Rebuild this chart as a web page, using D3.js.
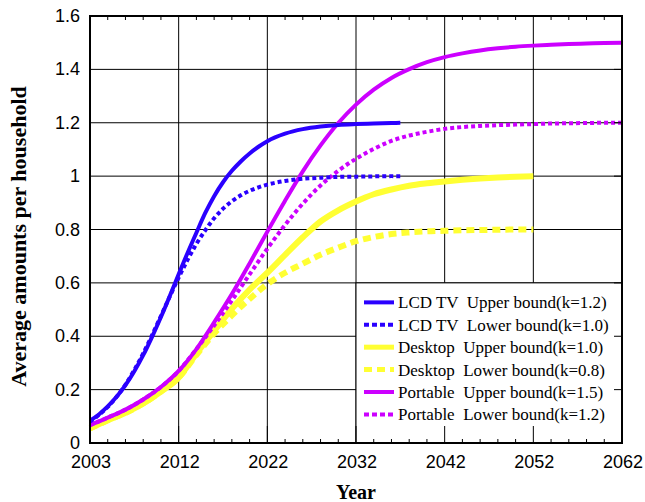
<!DOCTYPE html>
<html>
<head>
<meta charset="utf-8">
<script src="https://cdn.jsdelivr.net/npm/d3@7"></script>
<style>
  body { margin: 0; background: #fff; }
  svg { display: block; }
  text { white-space: pre; }
</style>
</head>
<body>
<svg id="chart" width="645" height="502"></svg>
<script>
// ---------------- data ----------------
const xTickValues = [2002, 2012, 2022, 2032, 2042, 2052, 2062];
const xTickLabels = ["2003", "2012", "2022", "2032", "2042", "2052", "2062"];
const yTickValues = [0, 0.2, 0.4, 0.6, 0.8, 1.0, 1.2, 1.4, 1.6];
const yTickLabels = ["0", "0.2", "0.4", "0.6", "0.8", "1", "1.2", "1.4", "1.6"];

const lcdYears = [2002,2003,2004,2005,2006,2007,2008,2009,2010,2011,2012,2013,2014,2015,2016,2017,2018,2019,2020,2021,2022,
                  2024,2026,2028,2030,2032,2034,2036,2037];
const lcdUpper = [0.084,0.107,0.137,0.173,0.217,0.269,0.329,0.398,0.472,0.551,0.632,0.712,0.788,0.862,0.925,0.977,1.02,1.055,1.085,1.11,1.131,
                  1.159,1.176,1.186,1.192,1.195,1.197,1.199,1.2];
const lcdLower = [0.080,0.105,0.135,0.173,0.219,0.274,0.336,0.404,0.476,0.549,0.620,0.686,0.746,0.797,0.842,0.878,0.906,0.928,0.945,0.958,0.968,
                  0.982,0.990,0.994,0.997,0.998,0.999,1.0,1.0];

const deskYears = [2002,2004,2006,2008,2010,2012,2014,2016,2018,2020,2022,2024,2026,2028,2030,2032,2034,2036,2038,2040,2042,2044,2046,2048,2050,2052];
const deskUpper = [0.055,0.085,0.113,0.148,0.193,0.245,0.335,0.42,0.503,0.575,0.638,0.705,0.771,0.83,0.872,0.905,0.932,0.95,0.964,0.973,0.98,0.986,0.991,0.995,0.998,1.0];
const deskLower = [0.055,0.085,0.113,0.148,0.193,0.245,0.33,0.41,0.478,0.54,0.595,0.638,0.672,0.705,0.732,0.756,0.772,0.783,0.789,0.793,0.795,0.797,0.798,0.799,0.8,0.8];

const portYears = [2002,2004,2006,2008,2010,2012,2014,2016,2018,2020,2022,2024,2026,2028,2030,2032,2034,2036,2038,2040,2042,2044,2046,2048,2050,2052,2054,2056,2058,2060,2062];
const portUpper = [0.067,0.095,0.125,0.163,0.21,0.27,0.352,0.452,0.558,0.673,0.792,0.908,1.018,1.115,1.199,1.268,1.324,1.368,1.401,1.427,1.446,1.46,1.471,1.479,1.485,1.489,1.492,1.495,1.497,1.499,1.5];
const portLower = [0.067,0.095,0.125,0.163,0.21,0.27,0.352,0.44,0.534,0.632,0.728,0.817,0.897,0.965,1.02,1.065,1.102,1.132,1.152,1.166,1.177,1.184,1.188,1.191,1.193,1.195,1.197,1.198,1.199,1.2,1.2];

const seriesNames = [
  "LCD TV  Upper bound(k=1.2)",
  "LCD TV  Lower bound(k=1.0)",
  "Desktop  Upper bound(k=1.0)",
  "Desktop  Lower bound(k=0.8)",
  "Portable  Upper bound(k=1.5)",
  "Portable  Lower bound(k=1.2)"
];

// ---------------- styles ----------------
const BLUE = "#2a00ff", YELLOW = "#ffff33", MAGENTA = "#cc00ff";
const series = [
  { name: seriesNames[0], years: lcdYears,  vals: lcdUpper,  color: BLUE,    width: 4, dash: null,  legDash: null },
  { name: seriesNames[1], years: lcdYears,  vals: lcdLower,  color: BLUE,    width: 4, dash: "4,3", legDash: "5,3" },
  { name: seriesNames[2], years: deskYears, vals: deskUpper, color: YELLOW,  width: 6, dash: null,  legDash: null },
  { name: seriesNames[3], years: deskYears, vals: deskLower, color: YELLOW,  width: 6, dash: "8,5", legDash: "8,5" },
  { name: seriesNames[4], years: portYears, vals: portUpper, color: MAGENTA, width: 4, dash: null,  legDash: null },
  { name: seriesNames[5], years: portYears, vals: portLower, color: MAGENTA, width: 4, dash: "4,3", legDash: "5,3" }
];
const drawOrder = [2, 3, 4, 5, 0, 1];

// ---------------- layout ----------------
const L = 90, R = 622, T = 16, B = 443;
const svg = d3.select("#chart");
svg.append("rect").attr("width", 645).attr("height", 502).attr("fill", "#fff");

const x = d3.scaleLinear().domain([2002, 2062]).range([L, R]);
const y = d3.scaleLinear().domain([0, 1.6]).range([B, T]);

// grid
const grid = svg.append("g").attr("stroke", "#000").attr("stroke-width", 1);
xTickValues.slice(1, -1).forEach(v => {
  grid.append("line").attr("x1", x(v)).attr("x2", x(v)).attr("y1", T).attr("y2", B);
});
yTickValues.slice(1, -1).forEach(v => {
  grid.append("line").attr("x1", L).attr("x2", R).attr("y1", y(v)).attr("y2", y(v));
});

// curves
const line = d3.line().x(d => x(d[0])).y(d => y(d[1])).curve(d3.curveMonotoneX);
const curves = svg.append("g").attr("fill", "none");
drawOrder.forEach(i => {
  const s = series[i];
  const pts = s.years.map((yr, k) => [yr, s.vals[k]]);
  curves.append("path")
    .attr("d", line(pts))
    .attr("stroke", s.color)
    .attr("stroke-width", s.width)
    .attr("stroke-dasharray", s.dash)
    .attr("stroke-linecap", "butt");
});

// legend
const lx0 = x(2032), ly0 = y(0.6);
const leg = svg.append("g");
leg.append("rect").attr("x", lx0).attr("y", ly0).attr("width", R - lx0).attr("height", B - ly0)
  .attr("fill", "#fff").attr("stroke", "#000").attr("stroke-width", 1);
series.forEach((s, i) => {
  const cy = ly0 + 19.5 + i * 22.4;
  leg.append("line").attr("x1", lx0 + 8).attr("x2", lx0 + 38).attr("y1", cy).attr("y2", cy)
    .attr("stroke", s.color).attr("stroke-width", s.width === 6 ? 5 : 4)
    .attr("stroke-dasharray", s.legDash);
  leg.append("text").attr("x", lx0 + 42).attr("y", cy + 6)
    .attr("font-family", "'Liberation Serif', 'Times New Roman', serif")
    .attr("font-size", 17).attr("fill", "#000")
    .text(s.name);
});

// ticks
const ticks = svg.append("g").attr("stroke", "#000").attr("stroke-width", 1);
const minor = d3.range(2002, 2063, 2).filter(v => !xTickValues.includes(v));
minor.forEach(v => {
  ticks.append("line").attr("x1", x(v)).attr("x2", x(v)).attr("y1", B).attr("y2", B - 4);
  ticks.append("line").attr("x1", x(v)).attr("x2", x(v)).attr("y1", T).attr("y2", T + 4);
});
xTickValues.forEach(v => {
  ticks.append("line").attr("x1", x(v)).attr("x2", x(v)).attr("y1", B).attr("y2", B - 17);
});
yTickValues.forEach(v => {
  ticks.append("line").attr("x1", R).attr("x2", R - 8).attr("y1", y(v)).attr("y2", y(v));
});

// frame
svg.append("rect").attr("x", L).attr("y", T).attr("width", R - L).attr("height", B - T)
  .attr("fill", "none").attr("stroke", "#000").attr("stroke-width", 2);

// tick labels
const labFont = "'Liberation Sans', Arial, sans-serif";
const xl = svg.append("g").attr("font-family", labFont).attr("font-size", 18).attr("fill", "#000").attr("text-anchor", "middle");
xTickValues.forEach((v, i) => {
  xl.append("text").attr("x", x(v) + 1).attr("y", 468).text(xTickLabels[i]);
});
const yl = svg.append("g").attr("font-family", labFont).attr("font-size", 18).attr("fill", "#000").attr("text-anchor", "end");
yTickValues.forEach((v, i) => {
  yl.append("text").attr("x", 80).attr("y", y(v) + 6).text(yTickLabels[i]);
});

// axis titles
svg.append("text").attr("x", 356).attr("y", 499).attr("text-anchor", "middle")
  .attr("font-family", "'Liberation Serif', 'Times New Roman', serif").attr("font-weight", "bold")
  .attr("font-size", 20).text("Year");
svg.append("text").attr("transform", "translate(26,236.5) rotate(-90)").attr("text-anchor", "middle")
  .attr("font-family", "'Liberation Serif', 'Times New Roman', serif").attr("font-weight", "bold")
  .attr("font-size", 22).text("Average amounts per household");
</script>
</body>
</html>
